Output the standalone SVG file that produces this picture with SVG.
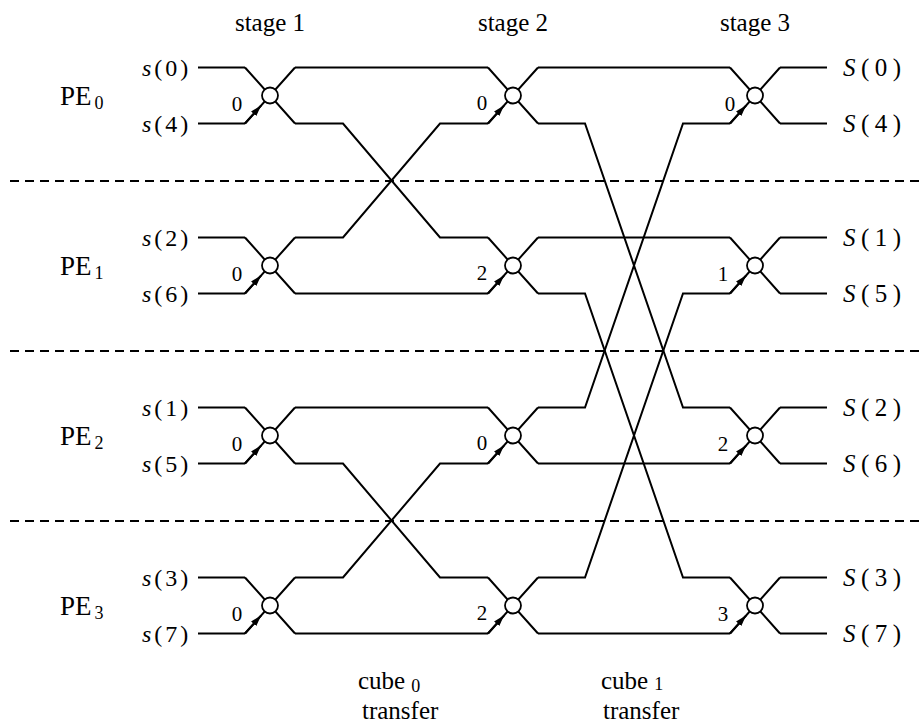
<svg xmlns="http://www.w3.org/2000/svg" width="924" height="725" viewBox="0 0 924 725">
<style>
  .w { fill: none; stroke: #000; stroke-width: 2; stroke-linejoin: miter; }
  .dash { stroke: #000; stroke-width: 2; stroke-dasharray: 9 6; }
  .c { fill: #fff; stroke: #000; stroke-width: 1.8; }
  text { font-family: "Liberation Serif", "Times New Roman", serif; fill: #000; }
  .t { font-size: 25px; }
  .pe { font-size: 27px; }
  .io { font-size: 24px; letter-spacing: 3px; }
  .oo { font-size: 25px; letter-spacing: 5.5px; }
  .d { font-size: 21px; text-anchor: middle; }
  .sub { font-size: 18px; }
  .hd { font-size: 25px; text-anchor: middle; }
</style>
<defs>
  <marker id="ah" markerUnits="userSpaceOnUse" markerWidth="12" markerHeight="8" refX="11" refY="3.5" orient="auto">
    <path d="M0,0 L11,3.5 L0,7 z" fill="#000"/>
  </marker>
</defs>
<rect width="924" height="725" fill="#fff"/>

<!-- stage headings -->
<g id="headings">
  <text class="hd" x="270" y="31">stage 1</text>
  <text class="hd" x="513" y="31">stage 2</text>
  <text class="hd" x="755" y="31">stage 3</text>
</g>

<!-- PE partitions -->
<g id="partitions">
  <line class="dash" x1="10" y1="181" x2="924" y2="181"/>
  <line class="dash" x1="10" y1="351" x2="924" y2="351"/>
  <line class="dash" x1="10" y1="521" x2="924" y2="521"/>
</g>

<!-- PE labels -->
<g id="pe-labels">
  <text class="pe" x="60" y="105">PE<tspan class="sub" dx="3" dy="4">0</tspan></text>
  <text class="pe" x="60" y="275">PE<tspan class="sub" dx="3" dy="4">1</tspan></text>
  <text class="pe" x="60" y="445">PE<tspan class="sub" dx="3" dy="4">2</tspan></text>
  <text class="pe" x="60" y="615">PE<tspan class="sub" dx="3" dy="4">3</tspan></text>
</g>

<!-- inputs -->
<g id="inputs">
  <text class="io" x="142" y="76"><tspan font-style="italic">s</tspan>(0)</text>
  <text class="io" x="142" y="132"><tspan font-style="italic">s</tspan>(4)</text>
  <text class="io" x="142" y="246"><tspan font-style="italic">s</tspan>(2)</text>
  <text class="io" x="142" y="302"><tspan font-style="italic">s</tspan>(6)</text>
  <text class="io" x="142" y="416"><tspan font-style="italic">s</tspan>(1)</text>
  <text class="io" x="142" y="472"><tspan font-style="italic">s</tspan>(5)</text>
  <text class="io" x="142" y="586"><tspan font-style="italic">s</tspan>(3)</text>
  <text class="io" x="142" y="642"><tspan font-style="italic">s</tspan>(7)</text>
</g>

<!-- outputs -->
<g id="outputs">
  <text class="oo" x="843" y="76"><tspan font-style="italic">S</tspan>(0)</text>
  <text class="oo" x="843" y="132"><tspan font-style="italic">S</tspan>(4)</text>
  <text class="oo" x="843" y="246"><tspan font-style="italic">S</tspan>(1)</text>
  <text class="oo" x="843" y="302"><tspan font-style="italic">S</tspan>(5)</text>
  <text class="oo" x="843" y="416"><tspan font-style="italic">S</tspan>(2)</text>
  <text class="oo" x="843" y="472"><tspan font-style="italic">S</tspan>(6)</text>
  <text class="oo" x="843" y="586"><tspan font-style="italic">S</tspan>(3)</text>
  <text class="oo" x="843" y="642"><tspan font-style="italic">S</tspan>(7)</text>
</g>

<!-- connectors -->
<g id="connectors" class="w">
  <!-- inputs to stage 1 -->
  <path d="M198,67.5 H245"/><path d="M198,123.5 H245"/>
  <path d="M198,237.5 H245"/><path d="M198,293.5 H245"/>
  <path d="M198,407.5 H245"/><path d="M198,463.5 H245"/>
  <path d="M198,577.5 H245"/><path d="M198,633.5 H245"/>
  <!-- stage 1 to stage 2 -->
  <path d="M295,67.5 H488"/>
  <path d="M295,123.5 H343 L440,237.5 H488"/>
  <path d="M295,237.5 H343 L440,123.5 H488"/>
  <path d="M295,293.5 H488"/>
  <path d="M295,407.5 H488"/>
  <path d="M295,463.5 H343 L440,577.5 H488"/>
  <path d="M295,577.5 H343 L440,463.5 H488"/>
  <path d="M295,633.5 H488"/>
  <!-- stage 2 to stage 3 -->
  <path d="M538,67.5 H730"/>
  <path d="M538,123.5 H585 L683,407.5 H730"/>
  <path d="M538,237.5 H730"/>
  <path d="M538,293.5 H585 L683,577.5 H730"/>
  <path d="M538,407.5 H585 L683,123.5 H730"/>
  <path d="M538,463.5 H730"/>
  <path d="M538,577.5 H585 L683,293.5 H730"/>
  <path d="M538,633.5 H730"/>
  <!-- stage 3 to outputs -->
  <path d="M780,67.5 H827"/><path d="M780,123.5 H827"/>
  <path d="M780,237.5 H827"/><path d="M780,293.5 H827"/>
  <path d="M780,407.5 H827"/><path d="M780,463.5 H827"/>
  <path d="M780,577.5 H827"/><path d="M780,633.5 H827"/>
</g>

<!-- butterfly nodes -->
<g id="n1-0"><path class="w" d="M245,67.5 L295,123.5 M245,123.5 L295,67.5"/><path class="w" d="M245,123.5 L261,105.6" marker-end="url(#ah)"/><circle class="c" cx="270" cy="95.5" r="8"/><text class="d" x="237" y="111">0</text></g>
<g id="n1-1"><path class="w" d="M245,237.5 L295,293.5 M245,293.5 L295,237.5"/><path class="w" d="M245,293.5 L261,275.6" marker-end="url(#ah)"/><circle class="c" cx="270" cy="265.5" r="8"/><text class="d" x="237" y="281">0</text></g>
<g id="n1-2"><path class="w" d="M245,407.5 L295,463.5 M245,463.5 L295,407.5"/><path class="w" d="M245,463.5 L261,445.6" marker-end="url(#ah)"/><circle class="c" cx="270" cy="435.5" r="8"/><text class="d" x="237" y="451">0</text></g>
<g id="n1-3"><path class="w" d="M245,577.5 L295,633.5 M245,633.5 L295,577.5"/><path class="w" d="M245,633.5 L261,615.6" marker-end="url(#ah)"/><circle class="c" cx="270" cy="605.5" r="8"/><text class="d" x="237" y="621">0</text></g>

<g id="n2-0"><path class="w" d="M488,67.5 L538,123.5 M488,123.5 L538,67.5"/><path class="w" d="M488,123.5 L504,105.6" marker-end="url(#ah)"/><circle class="c" cx="513" cy="95.5" r="8"/><text class="d" x="482" y="110">0</text></g>
<g id="n2-1"><path class="w" d="M488,237.5 L538,293.5 M488,293.5 L538,237.5"/><path class="w" d="M488,293.5 L504,275.6" marker-end="url(#ah)"/><circle class="c" cx="513" cy="265.5" r="8"/><text class="d" x="482" y="280">2</text></g>
<g id="n2-2"><path class="w" d="M488,407.5 L538,463.5 M488,463.5 L538,407.5"/><path class="w" d="M488,463.5 L504,445.6" marker-end="url(#ah)"/><circle class="c" cx="513" cy="435.5" r="8"/><text class="d" x="482" y="450">0</text></g>
<g id="n2-3"><path class="w" d="M488,577.5 L538,633.5 M488,633.5 L538,577.5"/><path class="w" d="M488,633.5 L504,615.6" marker-end="url(#ah)"/><circle class="c" cx="513" cy="605.5" r="8"/><text class="d" x="482" y="620">2</text></g>

<g id="n3-0"><path class="w" d="M730,67.5 L780,123.5 M730,123.5 L780,67.5"/><path class="w" d="M730,123.5 L746,105.6" marker-end="url(#ah)"/><circle class="c" cx="755" cy="95.5" r="8"/><text class="d" x="730" y="111">0</text></g>
<g id="n3-1"><path class="w" d="M730,237.5 L780,293.5 M730,293.5 L780,237.5"/><path class="w" d="M730,293.5 L746,275.6" marker-end="url(#ah)"/><circle class="c" cx="755" cy="265.5" r="8"/><text class="d" x="723" y="281">1</text></g>
<g id="n3-2"><path class="w" d="M730,407.5 L780,463.5 M730,463.5 L780,407.5"/><path class="w" d="M730,463.5 L746,445.6" marker-end="url(#ah)"/><circle class="c" cx="755" cy="435.5" r="8"/><text class="d" x="723" y="451">2</text></g>
<g id="n3-3"><path class="w" d="M730,577.5 L780,633.5 M730,633.5 L780,577.5"/><path class="w" d="M730,633.5 L746,615.6" marker-end="url(#ah)"/><circle class="c" cx="755" cy="605.5" r="8"/><text class="d" x="723" y="621">3</text></g>

<!-- transfer labels -->
<g id="transfer-labels">
  <text class="t" x="358" y="689">cube<tspan class="sub" dx="6" dy="3">0</tspan></text>
  <text class="t" x="362" y="719">transfer</text>
  <text class="t" x="601" y="689">cube<tspan class="sub" dx="6" dy="1">1</tspan></text>
  <text class="t" x="603" y="719">transfer</text>
</g>
</svg>
